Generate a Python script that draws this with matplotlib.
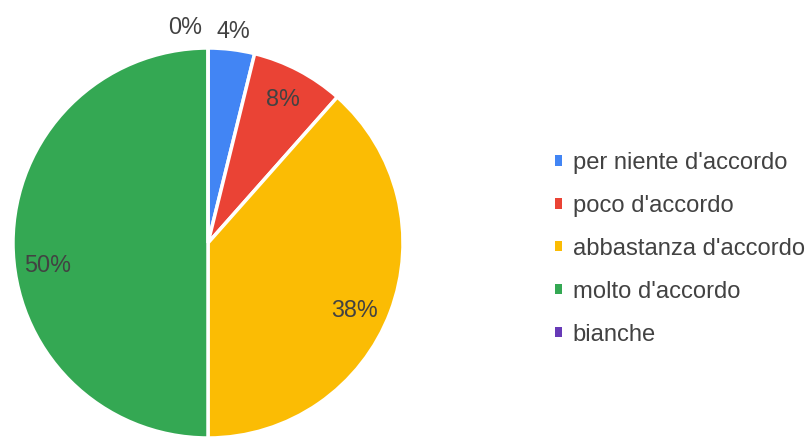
import matplotlib
matplotlib.use("Agg")
import matplotlib.pyplot as plt
import numpy as np

categories = ["per niente d'accordo", "poco d'accordo", "abbastanza d'accordo",
              "molto d'accordo", "bianche"]
counts = [1, 2, 10, 13, 0]
colors = ["#4285F4", "#EA4335", "#FBBC04", "#34A853", "#673AB7"]

plt.rcParams['font.family'] = ['Liberation Sans', 'DejaVu Sans']
TXT = '#424242'

W, H = 809, 437
fig = plt.figure(figsize=(W / 100, H / 100), dpi=100)
ax = fig.add_axes([0, 0, 1, 1])

cx, cy, r = 208, H - 243, 195
wedges, texts, autotexts = ax.pie(
    counts, colors=colors, startangle=90, counterclock=False,
    center=(cx, cy), radius=r, autopct='%.0f%%', pctdistance=0.83,
    wedgeprops=dict(edgecolor='white', linewidth=2.5),
    textprops=dict(color=TXT, fontsize=16.8), frame=True)
ax.set_xlim(0, W)
ax.set_ylim(0, H)
ax.set_aspect('equal')
ax.axis('off')

# label placement: tiny slices outside the pie, small angular nudges
angle_nudge = [0, 0, -4, 8, 6]
dist = [1.09, 0.83, 0.83, 0.83, 1.11]
total = sum(counts)
cum = 0
for i, (v, t) in enumerate(zip(counts, autotexts)):
    frac = v / total
    mid = 90 - 360 * (cum + frac / 2) + angle_nudge[i]
    rad = np.deg2rad(mid)
    d = dist[i] * r
    t.set_position((cx + d * np.cos(rad), cy + d * np.sin(rad)))
    cum += frac

leg = fig.legend(wedges, categories, loc='upper left',
                 bbox_to_anchor=(555 / W, 1 - 152 / H), frameon=False,
                 fontsize=17.1, labelcolor=TXT, handlelength=0.3,
                 handleheight=0.3, handletextpad=0.45, labelspacing=0.88,
                 borderaxespad=0, borderpad=0)
for h in leg.legend_handles:
    h.set_edgecolor('none')

fig.savefig('out.png', dpi=100, facecolor='white')
